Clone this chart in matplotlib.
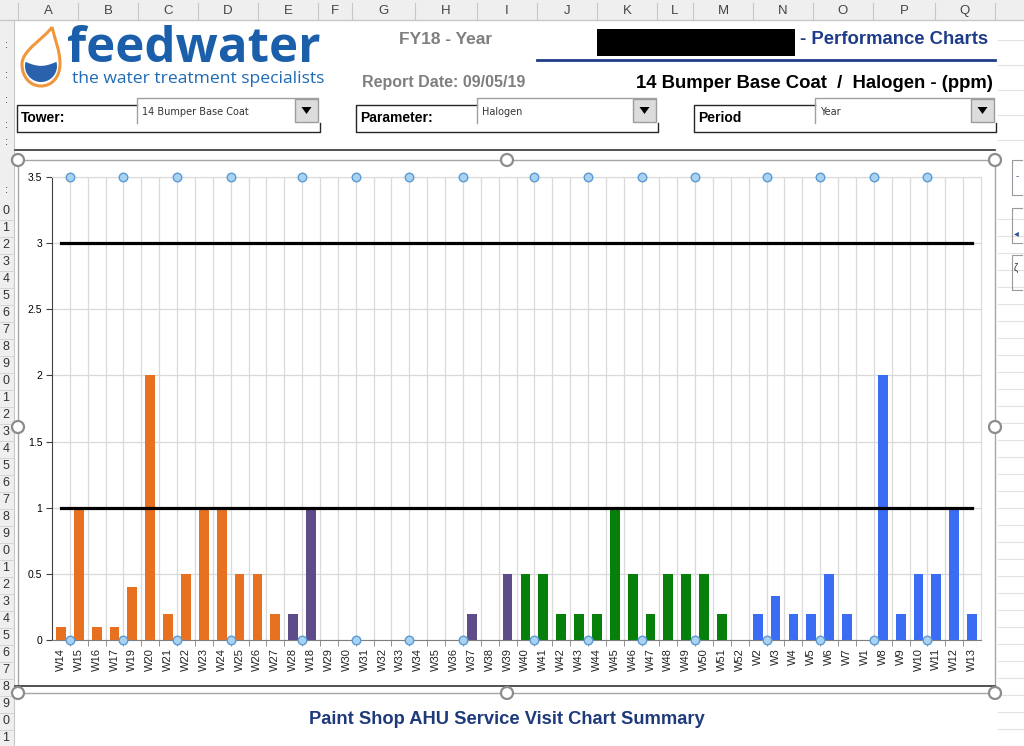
import numpy as np
import matplotlib.pyplot as plt
from matplotlib.patches import Rectangle, Circle, PathPatch
from matplotlib.path import Path

# weekly halogen results (ppm), financial year order
weeks = ['W14', 'W15', 'W16', 'W17', 'W19', 'W20', 'W21', 'W22', 'W23', 'W24', 'W25', 'W26', 'W27',
         'W28', 'W18', 'W29', 'W30', 'W31', 'W32', 'W33', 'W34', 'W35', 'W36', 'W37', 'W38', 'W39',
         'W40', 'W41', 'W42', 'W43', 'W44', 'W45', 'W46', 'W47', 'W48', 'W49', 'W50', 'W51', 'W52',
         'W2', 'W3', 'W4', 'W5', 'W6', 'W7', 'W1', 'W8', 'W9', 'W10', 'W11', 'W12', 'W13']
halogen = [0.1, 1, 0.1, 0.1, 0.4, 2, 0.2, 0.5, 1, 1, 0.5, 0.5, 0.2,
           0.2, 1, 0, 0, 0, 0, 0, 0, 0, 0, 0.2, 0, 0.5,
           0.5, 0.5, 0.2, 0.2, 0.2, 1, 0.5, 0.2, 0.5, 0.5, 0.5, 0.2, 0,
           0.2, 0.33, 0.2, 0.2, 0.5, 0.2, 0, 2, 0.2, 0.5, 0.5, 1, 0.2]
quarter = [0] * 13 + [1] * 13 + [2] * 13 + [3] * 13
quarter_colours = ['#E87121', '#5E4B8A', '#06800B', '#3B6CF4']
upper_limit = 3
lower_limit = 1
month_start = ['W15', 'W19', 'W22', 'W25', 'W18', 'W31', 'W34', 'W37',
               'W41', 'W44', 'W47', 'W50', 'W3', 'W6', 'W8', 'W11']
y_ticks = [0, 0.5, 1, 1.5, 2, 2.5, 3, 3.5]
y_tick_labels = ['0', '0.5', '1', '1.5', '2', '2.5', '3', '3.5']
col_letters = list('ABCDEFGHIJKLMNOPQ')
col_edges = [18, 78, 138, 198, 258, 318, 352, 415, 477, 537, 597, 657, 693, 753, 813, 873, 935, 995]

plt.rcParams['font.family'] = ['Liberation Sans', 'DejaVu Sans']

W, H = 1024, 746
fig = plt.figure(figsize=(W / 100, H / 100), dpi=100)
bg = fig.add_axes([0, 0, 1, 1])
bg.set_xlim(0, W)
bg.set_ylim(H, 0)
bg.axis('off')

# spreadsheet column header strip
bg.add_patch(Rectangle((0, 0), W, 20, fc='#EFEFEF', ec='none'))
bg.plot([0, W], [20, 20], color='#C8C8C8', lw=1)
for e in col_edges:
    bg.plot([e, e], [3, 20], color='#C8C8C8', lw=0.8)
for i, c in enumerate(col_letters):
    bg.text((col_edges[i] + col_edges[i + 1]) / 2, 11, c, ha='center', va='center',
            fontsize=9.5, color='#444444')

# row header strip on the left (cut off)
bg.add_patch(Rectangle((0, 20), 14, H - 20, fc='#EFEFEF', ec='none'))
bg.plot([14, 14], [20, H], color='#C8C8C8', lw=0.8)
row_y = np.arange(211, 740, 17)
for k, y in enumerate(row_y):
    bg.text(6, y, str(k % 10), ha='center', va='center', fontsize=9, color='#333333')
    bg.plot([0, 14], [y + 8.5, y + 8.5], color='#D0D0D0', lw=0.6)
for y in [45, 75, 100, 125, 142, 190]:
    bg.text(6, y, ':', ha='center', va='center', fontsize=8, color='#333333')

# faint cell grid on the right margin
for y in list(range(40, 150, 25)) + list(row_y + 8):
    bg.plot([998, W], [y, y], color='#E2E2E2', lw=0.8)
for y0 in [160, 208, 255]:
    bg.plot([1022, 1012, 1012, 1022], [y0, y0, y0 + 35, y0 + 35], color='#9A9A9A', lw=0.8)
bg.text(1016, 176, '-', fontsize=7, color='#2F5597', va='center')
bg.text(1014, 233, '\u25c2', fontsize=7, color='#2F5597', va='center')
bg.text(1014, 268, '\u03b6', fontsize=7, color='#333333', va='center')

# logo droplet
verts = [(52, 27), (45, 38), (22, 50), (22, 64),
         (22, 77), (30, 86), (41, 86),
         (52, 86), (60, 77), (60, 64),
         (60, 50), (55, 40), (52, 27)]
codes = [Path.MOVETO] + [Path.CURVE4] * 12
bg.add_patch(PathPatch(Path(verts, codes), fc='white', ec='#F0963C', lw=2.2))
cx, cy, r = 41, 66, 16
tt = np.radians(np.linspace(165, 375, 50))
lx = cx + r * np.cos(tt)
ly = cy - r * np.sin(tt)
wave_x = np.linspace(lx[-1], lx[0], 20)
wave_y = np.linspace(ly[-1], ly[0], 20) + 4 * np.sin(np.linspace(0, np.pi, 20))
bg.fill(np.concatenate([lx, wave_x]), np.concatenate([ly, wave_y]), color='#2B62AE', lw=0)

bg.text(67, 62, 'feedwater', fontsize=35.5, fontweight='bold', color='#1B5FAA',
        family=['Open Sans', 'DejaVu Sans'], va='baseline', ha='left')
bg.text(72, 83, 'the water treatment specialists', fontsize=12.6, color='#1F6BB5',
        family=['Open Sans', 'DejaVu Sans'], va='baseline', ha='left')

# report headings
bg.text(446, 40, 'FY18 - Year', fontsize=12.5, fontweight='bold', color='#7F7F7F',
        ha='center', va='center')
bg.text(362, 83, 'Report Date: 09/05/19', fontsize=11.5, fontweight='bold', color='#7F7F7F',
        ha='left', va='center')
bg.add_patch(Rectangle((597, 29), 198, 27, fc='black', ec='none'))
bg.text(988, 40, '- Performance Charts', fontsize=13.3, fontweight='bold', color='#1F3C88',
        ha='right', va='center')
bg.plot([537, 995], [60, 60], color='#1F3C88', lw=2)
bg.text(993, 83, '14 Bumper Base Coat  /  Halogen - (ppm)', fontsize=13.3, fontweight='bold',
        color='black', ha='right', va='center')


def selector(x0, x1, combo_x, label, value):
    # frame round the label, combo box with its drop-down button
    bg.plot([combo_x, x0, x0, x1, x1], [105, 105, 132, 132, 123], color='#262626', lw=1)
    bg.add_patch(Rectangle((combo_x, 98), x1 - 2 - combo_x, 25, fc='white', ec='none'))
    bg.plot([combo_x, combo_x, x1 - 2], [123, 98, 98], color='#A0A0A0', lw=1)
    bx0 = x1 - 25
    bg.add_patch(Rectangle((bx0, 99), 23, 23, fc='#DCDCDC', ec='#9C9C9C', lw=1))
    bg.add_patch(plt.Polygon([(bx0 + 6.5, 107), (bx0 + 16.5, 107), (bx0 + 11.5, 114)],
                             fc='black', ec='none'))
    bg.text(x0 + 4, 118, label, fontsize=10, fontweight='bold', color='black',
            ha='left', va='center')
    bg.text(combo_x + 5, 112, value, fontsize=7, color='#333333', ha='left', va='center',
            family=['DejaVu Sans'])


selector(17, 320, 137, 'Tower:', '14 Bumper Base Coat')
selector(356, 658, 477, 'Parameter:', 'Halogen')
selector(694, 996, 815, 'Period', 'Year')

# chart object frame
bg.plot([15, 995], [150, 150], color='#333333', lw=1.2)
bg.plot([15, 995], [686, 686], color='#333333', lw=1.2)
bg.add_patch(Rectangle((18, 160), 977, 533, fc='white', ec='#A6A6A6', lw=1))
for hx, hy in [(18, 160), (507, 160), (995, 160), (18, 427), (995, 427),
               (18, 693), (507, 693), (995, 693)]:
    bg.add_patch(Circle((hx, hy), 6, fc='white', ec='#8C8C8C', lw=1.6, zorder=5))

bg.text(507, 719, 'Paint Shop AHU Service Visit Chart Summary', fontsize=13.2, fontweight='bold',
        color='#1F3A7A', ha='center', va='center',
        family=['Liberation Sans Narrow', 'Liberation Sans', 'DejaVu Sans'])

# the chart itself
ax = fig.add_axes([52 / W, 1 - 640 / H, (981 - 52) / W, (640 - 177) / H])
ax.set_facecolor('white')
x = np.arange(len(weeks))
colours = [quarter_colours[q] for q in quarter]
ax.bar(x, halogen, width=0.55, color=colours, zorder=3)
ax.plot([x[0], x[-1]], [upper_limit, upper_limit], color='black', lw=2.3, zorder=4)
ax.plot([x[0], x[-1]], [lower_limit, lower_limit], color='black', lw=2.3, zorder=4)

mpos = [weeks.index(w) - 0.5 for w in month_start]
for yv in [y_ticks[-1], y_ticks[0]]:
    ax.scatter(mpos, [yv] * len(mpos), s=38, fc='#A9D1F0', ec='#5B9BD5', lw=1,
               zorder=6, clip_on=False)

ax.set_xlim(-0.5, len(weeks) - 0.5)
ax.set_ylim(0, 3.5)
ax.set_yticks(y_ticks)
ax.set_yticklabels(y_tick_labels, fontsize=7.5)
ax.set_xticks(x)
ax.set_xticklabels(weeks, rotation=90, fontsize=8, color='#222222')
ax.set_xticks(x[:-1] + 0.5, minor=True)
ax.tick_params(axis='x', which='major', length=0, pad=6)
ax.tick_params(axis='x', which='minor', length=4, color='#7F7F7F')
ax.tick_params(axis='y', length=4, color='#404040', pad=3)
ax.grid(axis='y', color='#D9D9D9', lw=0.9, zorder=0)
for b in x[:-1] + 0.5:
    ax.axvline(b, color='#D9D9D9', lw=0.9, zorder=0)
ax.spines['left'].set_color('#404040')
ax.spines['bottom'].set_color('#7F7F7F')
ax.spines['top'].set_color('#D9D9D9')
ax.spines['right'].set_color('#D9D9D9')

fig.savefig('out.png', dpi=100)
